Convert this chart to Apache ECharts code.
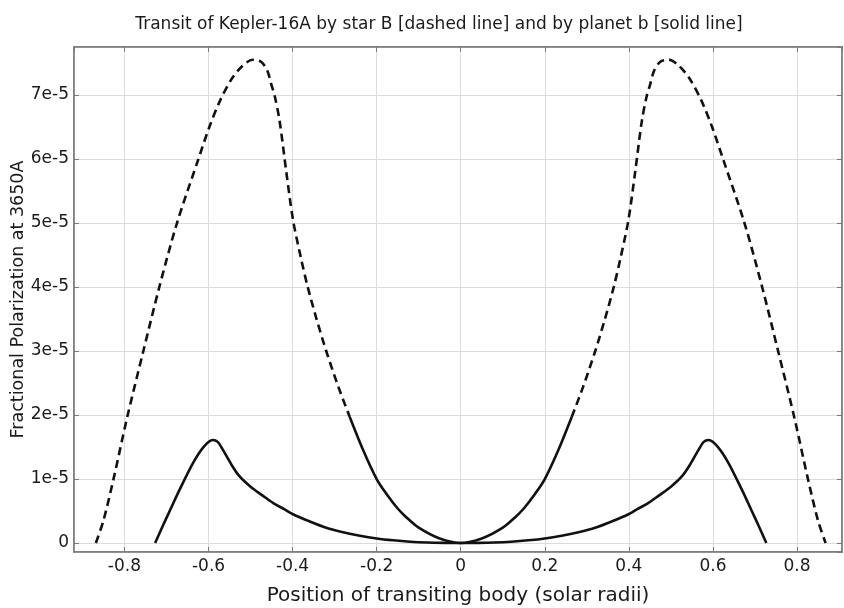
<!DOCTYPE html>
<html>
<head>
<meta charset="utf-8">
<script src="https://cdn.jsdelivr.net/npm/echarts@6/dist/echarts.min.js"></script>
<style>html,body{margin:0;padding:0;background:#fff}#c{width:844px;height:608px}</style>
</head>
<body>
<div id="c"></div>
<script>
var titleText = 'Transit of Kepler-16A by star B [dashed line] and by planet b [solid line]';
var xAxisName = 'Position of transiting body (solar radii)';
var yAxisName = 'Fractional Polarization at 3650A';

// Star B transit (dashed), polarization values
var starB_x = [-0.868, -0.850, -0.826, -0.794, -0.755, -0.717, -0.675, -0.624, -0.598, -0.572, -0.545, -0.520, -0.495, -0.475, -0.460, -0.450, -0.443, -0.431, -0.415, -0.399, -0.380, -0.364, -0.343, -0.320, -0.290, -0.264, -0.232, -0.200, -0.177, -0.150, -0.129, -0.100, -0.050, 0,
               0.050, 0.100, 0.129, 0.150, 0.177, 0.200, 0.232, 0.264, 0.290, 0.320, 0.343, 0.364, 0.380, 0.399, 0.415, 0.431, 0.443, 0.450, 0.460, 0.475, 0.495, 0.520, 0.545, 0.572, 0.598, 0.624, 0.675, 0.717, 0.755, 0.794, 0.826, 0.850, 0.868];
var starB_y = [0, 0.35e-5, 1.0e-5, 1.95e-5, 3.0e-5, 4.0e-5, 5.0e-5, 6.0e-5, 6.5e-5, 6.92e-5, 7.25e-5, 7.45e-5, 7.55e-5, 7.52e-5, 7.38e-5, 7.15e-5, 7.0e-5, 6.6e-5, 5.8e-5, 5.05e-5, 4.45e-5, 4.0e-5, 3.5e-5, 3.0e-5, 2.42e-5, 1.97e-5, 1.45e-5, 1.0e-5, 0.77e-5, 0.54e-5, 0.40e-5, 0.24e-5, 0.07e-5, 0,
               0.07e-5, 0.24e-5, 0.40e-5, 0.54e-5, 0.77e-5, 1.0e-5, 1.45e-5, 1.97e-5, 2.42e-5, 3.0e-5, 3.5e-5, 4.0e-5, 4.45e-5, 5.05e-5, 5.8e-5, 6.6e-5, 7.0e-5, 7.15e-5, 7.38e-5, 7.52e-5, 7.55e-5, 7.45e-5, 7.25e-5, 6.92e-5, 6.5e-5, 6.0e-5, 5.0e-5, 4.0e-5, 3.0e-5, 1.95e-5, 1.0e-5, 0.35e-5, 0];

// Planet b transit (solid)
var planet_x = [-0.727, -0.710, -0.691, -0.669, -0.637, -0.612, -0.590, -0.578, -0.566, -0.545, -0.526, -0.500, -0.471, -0.445, -0.420, -0.399, -0.360, -0.320, -0.280, -0.240, -0.200, -0.161, -0.120, -0.080, -0.040, 0,
                0.040, 0.080, 0.120, 0.161, 0.200, 0.240, 0.280, 0.320, 0.360, 0.399, 0.420, 0.445, 0.471, 0.500, 0.526, 0.545, 0.566, 0.578, 0.590, 0.612, 0.637, 0.669, 0.691, 0.710, 0.727];
var planet_y = [0, 0.25e-5, 0.52e-5, 0.83e-5, 1.25e-5, 1.50e-5, 1.61e-5, 1.58e-5, 1.46e-5, 1.22e-5, 1.04e-5, 0.88e-5, 0.74e-5, 0.62e-5, 0.53e-5, 0.45e-5, 0.34e-5, 0.24e-5, 0.17e-5, 0.115e-5, 0.072e-5, 0.043e-5, 0.021e-5, 0.008e-5, 0.002e-5, 0,
                0.002e-5, 0.008e-5, 0.021e-5, 0.043e-5, 0.072e-5, 0.115e-5, 0.17e-5, 0.24e-5, 0.34e-5, 0.45e-5, 0.53e-5, 0.62e-5, 0.74e-5, 0.88e-5, 1.04e-5, 1.22e-5, 1.46e-5, 1.58e-5, 1.61e-5, 1.50e-5, 1.25e-5, 0.83e-5, 0.52e-5, 0.25e-5, 0];

var xMin = -0.92, xMax = 0.907;
var yMin = -0.14e-5, yMax = 7.75e-5;

function pairs(xs, ys, keep) {
  var out = [];
  for (var i = 0; i < xs.length; i++) { if (keep(xs[i])) out.push([xs[i], ys[i]]); }
  return out;
}
var split = 0.26;
var starB_outerL = pairs(starB_x, starB_y, function (x) { return x <= -split + 0.01; });
var starB_inner = pairs(starB_x, starB_y, function (x) { return Math.abs(x) <= split + 0.01; });
var starB_outerR = pairs(starB_x, starB_y, function (x) { return x >= split - 0.01; });
var planetData = pairs(planet_x, planet_y, function () { return true; });

function yFmt(v) {
  var n = Math.round(v / 1e-5);
  return n === 0 ? '0' : n + 'e-5';
}
function xFmt(v) {
  var r = Math.round(v * 10) / 10;
  return r === 0 ? '0' : String(r);
}

var font = 'DejaVu Sans, Liberation Sans, Arial, sans-serif';
var frameColor = '#7a7a7a';
var gridColor = '#dcdcdc';
var textColor = '#1a1a1a';

var chart = echarts.init(document.getElementById('c'), null, { renderer: 'canvas' });
var lineStyleBase = { color: '#111', width: 2.6 };
var commonTick = { show: true, inside: true, length: 5, lineStyle: { color: frameColor } };
var sm = 0.3;
chart.setOption({
  animation: false,
  backgroundColor: '#fff',
  title: {
    text: titleText, left: 434, top: 11, textAlign: 'center',
    textStyle: { fontFamily: font, fontSize: 17, fontWeight: 'normal', color: textColor }
  },
  grid: { left: 74, right: 2, top: 47, bottom: 56, containLabel: false, outerBoundsMode: 'none',
          show: true, borderColor: frameColor, borderWidth: 1.5, backgroundColor: 'transparent' },
  xAxis: [{
    type: 'value', min: xMin, max: xMax, splitNumber: 9,
    name: xAxisName, nameLocation: 'middle', nameGap: 34, nameMoveOverlap: false,
    nameTextStyle: { fontFamily: font, fontSize: 20, color: textColor },
    axisLine: { show: true, onZero: false, lineStyle: { color: frameColor, width: 1.5 } },
    axisTick: commonTick,
    axisLabel: { formatter: xFmt, showMinLabel: false, showMaxLabel: false, margin: 6, fontFamily: font, fontSize: 17, color: textColor },
    splitLine: { show: true, lineStyle: { color: gridColor, width: 1 } }
  }, {
    type: 'value', min: xMin, max: xMax, splitNumber: 9, position: 'top',
    axisLine: { show: true, onZero: false, lineStyle: { color: frameColor, width: 1.5 } },
    axisTick: commonTick,
    axisLabel: { show: false }, splitLine: { show: false }
  }],
  yAxis: [{
    type: 'value', min: yMin, max: yMax, splitNumber: 8,
    name: yAxisName, nameLocation: 'middle', nameGap: 47, nameMoveOverlap: false,
    nameTextStyle: { fontFamily: font, fontSize: 17.5, color: textColor },
    axisLine: { show: true, onZero: false, lineStyle: { color: frameColor, width: 1.5 } },
    axisTick: commonTick,
    axisLabel: { formatter: yFmt, showMinLabel: false, showMaxLabel: false, margin: 5, fontFamily: font, fontSize: 17, color: textColor },
    splitLine: { show: true, lineStyle: { color: gridColor, width: 1 } }
  }, {
    type: 'value', min: yMin, max: yMax, splitNumber: 8, position: 'right',
    axisLine: { show: true, onZero: false, lineStyle: { color: frameColor, width: 1.5 } },
    axisTick: commonTick,
    axisLabel: { show: false }, splitLine: { show: false }
  }],
  series: [
    { name: 'star B', type: 'line', data: starB_outerL, symbol: 'none', smooth: sm, lineStyle: Object.assign({}, lineStyleBase, { type: [8, 5] }) },
    { name: 'star B', type: 'line', data: starB_inner, symbol: 'none', smooth: sm, lineStyle: Object.assign({}, lineStyleBase) },
    { name: 'star B', type: 'line', data: starB_outerR, symbol: 'none', smooth: sm, lineStyle: Object.assign({}, lineStyleBase, { type: [8, 5] }) },
    { name: 'planet b', type: 'line', data: planetData, symbol: 'none', smooth: sm, lineStyle: Object.assign({}, lineStyleBase) }
  ]
});
</script>
</body>
</html>
